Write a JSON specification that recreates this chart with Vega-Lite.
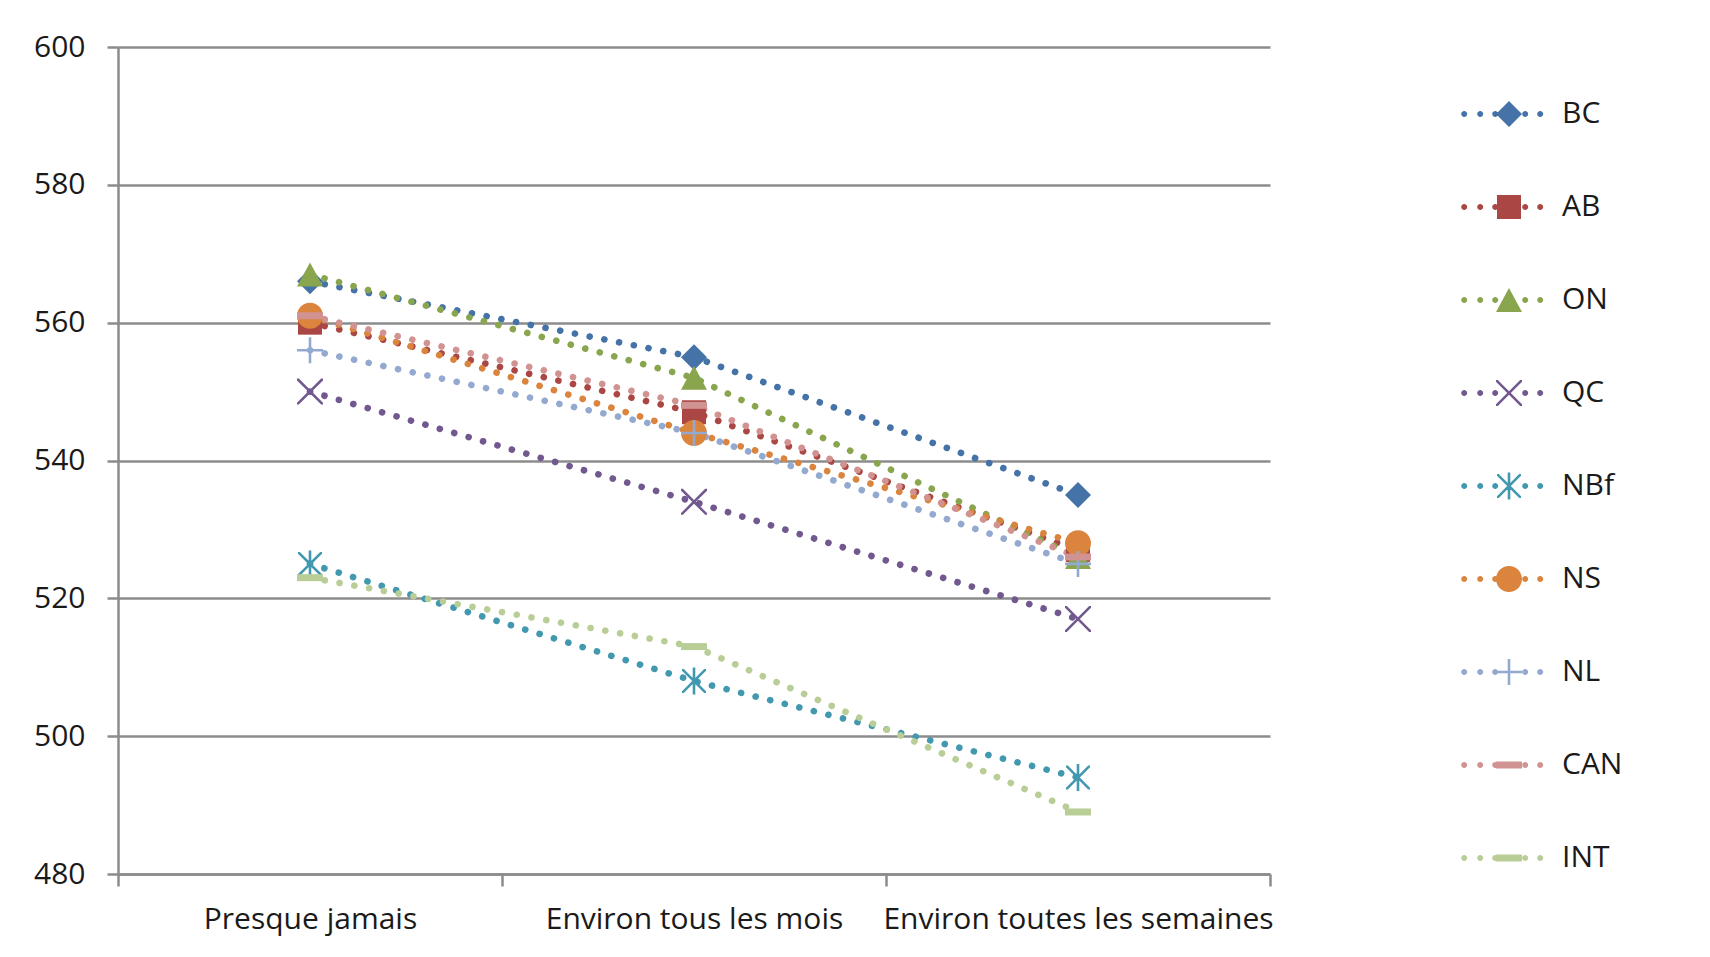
{
  "$schema": "https://vega.github.io/schema/vega-lite/v6.json",
  "width": 1152,
  "height": 827,
  "autosize": {"type": "none"},
  "padding": {"left": 118, "top": 47, "right": 440, "bottom": 83},
  "background": "white",
  "config": {
    "view": {"stroke": null},
    "font": "Open Sans",
    "axis": {
      "labelFont": "Open Sans",
      "labelFontSize": 30,
      "labelColor": "#1a1a1a",
      "labelLimit": 0,
      "domainColor": "#8c8c8c",
      "domainWidth": 2.5,
      "tickColor": "#8c8c8c",
      "tickWidth": 2.5,
      "gridColor": "#8c8c8c",
      "gridWidth": 2.5,
      "title": null
    },
    "legend": {
      "orient": "none",
      "legendX": 1376,
      "legendY": 52,
      "title": null,
      "direction": "vertical",
      "symbolSize": 4,
      "symbolOffset": 0,
      "symbolStrokeWidth": 0,
      "symbolOpacity": 1,
      "labelOffset": 38,
      "labelFont": "Open Sans",
      "labelFontSize": 30,
      "labelColor": "#1a1a1a",
      "rowPadding": 63,
      "padding": 0
    }
  },
  "data": {
    "values": [
      {"prov": "BC", "freq": "Presque jamais", "score": 566},
      {"prov": "BC", "freq": "Environ tous les mois", "score": 555},
      {"prov": "BC", "freq": "Environ toutes les semaines", "score": 535},
      {"prov": "AB", "freq": "Presque jamais", "score": 560},
      {"prov": "AB", "freq": "Environ tous les mois", "score": 547},
      {"prov": "AB", "freq": "Environ toutes les semaines", "score": 527},
      {"prov": "ON", "freq": "Presque jamais", "score": 567},
      {"prov": "ON", "freq": "Environ tous les mois", "score": 552},
      {"prov": "ON", "freq": "Environ toutes les semaines", "score": 526},
      {"prov": "QC", "freq": "Presque jamais", "score": 550},
      {"prov": "QC", "freq": "Environ tous les mois", "score": 534},
      {"prov": "QC", "freq": "Environ toutes les semaines", "score": 517},
      {"prov": "NBf", "freq": "Presque jamais", "score": 525},
      {"prov": "NBf", "freq": "Environ tous les mois", "score": 508},
      {"prov": "NBf", "freq": "Environ toutes les semaines", "score": 494},
      {"prov": "NS", "freq": "Presque jamais", "score": 561},
      {"prov": "NS", "freq": "Environ tous les mois", "score": 544},
      {"prov": "NS", "freq": "Environ toutes les semaines", "score": 528},
      {"prov": "NL", "freq": "Presque jamais", "score": 556},
      {"prov": "NL", "freq": "Environ tous les mois", "score": 544},
      {"prov": "NL", "freq": "Environ toutes les semaines", "score": 525},
      {"prov": "CAN", "freq": "Presque jamais", "score": 561},
      {"prov": "CAN", "freq": "Environ tous les mois", "score": 548},
      {"prov": "CAN", "freq": "Environ toutes les semaines", "score": 526},
      {"prov": "INT", "freq": "Presque jamais", "score": 523},
      {"prov": "INT", "freq": "Environ tous les mois", "score": 513},
      {"prov": "INT", "freq": "Environ toutes les semaines", "score": 489}
    ]
  },
  "encoding": {
    "x": {
      "field": "freq",
      "type": "nominal",
      "bandPosition": 0.5,
      "sort": ["Presque jamais", "Environ tous les mois", "Environ toutes les semaines"],
      "scale": {"type": "band", "paddingInner": 0, "paddingOuter": 0, "domain": ["Presque jamais", "Environ tous les mois", "Environ toutes les semaines"]},
      "axis": {"tickBand": "extent", "labelAngle": 0, "grid": false, "tickSize": 12, "labelPadding": 18, "labelBaseline": "top"}
    },
    "y": {
      "field": "score",
      "type": "quantitative",
      "scale": {"domain": [480, 600], "nice": false, "zero": false},
      "axis": {"values": [480, 500, 520, 540, 560, 580, 600], "grid": true, "tickSize": 11, "labelPadding": 22}
    },
    "color": {
      "field": "prov",
      "type": "nominal",
      "scale": {
        "domain": ["BC", "AB", "ON", "QC", "NBf", "NS", "NL", "CAN", "INT"],
        "range": ["#4572A7", "#AA4643", "#89A54E", "#71588F", "#4198AF", "#DB843D", "#93A9CF", "#D19392", "#B9CD96"]
      },
      "legend": null
    }
  },
  "layer": [
    {
      "mark": {"type": "line", "strokeWidth": 6.6, "strokeDash": [0.1, 14.9], "strokeCap": "round"}
    },
    {
      "mark": {"type": "point", "filled": true, "opacity": 1, "size": 4, "strokeWidth": 0},
      "encoding": {
        "shape": {
          "field": "prov",
          "type": "nominal",
          "scale": {
            "domain": ["BC", "AB", "ON", "QC", "NBf", "NS", "NL", "CAN", "INT"],
            "range": [
              "M0,-13L13,0L0,13L-13,0Z",
              "M-12,-12H12V12H-12Z",
              "M0,-12L13,12H-13Z",
              "M-13,-13L-11.2,-13L0,-1.8L11.2,-13L13,-13L13,-11.2L1.8,0L13,11.2L13,13L11.2,13L0,1.8L-11.2,13L-13,13L-13,11.2L-1.8,0L-13,-11.2Z",
              "M-12,-12L-10.2,-12L0,-1.8L10.2,-12L12,-12L12,-10.2L1.8,0L12,10.2L12,12L10.2,12L0,1.8L-10.2,12L-12,12L-12,10.2L-1.8,0L-12,-10.2ZM-1.3,-13.5H1.3V13.5H-1.3Z",
              "M-13,0A13,13 0 1,1 13,0A13,13 0 1,1 -13,0Z",
              "M-1.3,-13H1.3V-1.3H13V1.3H1.3V13H-1.3V1.3H-13V-1.3H-1.3Z",
              "M-13,-3.5H13V3.5H-13Z",
              "M-13,-3.5H13V3.5H-13Z"
            ]
          },
          "legend": null
        }
      }
    },
    {
      "transform": [{"filter": "false"}],
      "mark": {"type": "point", "filled": true, "opacity": 1, "size": 4, "strokeWidth": 0},
      "encoding": {
        "color": {
          "field": "prov",
          "type": "nominal",
          "scale": {
            "domain": ["BC", "AB", "ON", "QC", "NBf", "NS", "NL", "CAN", "INT"],
            "range": ["#4572A7", "#AA4643", "#89A54E", "#71588F", "#4198AF", "#DB843D", "#93A9CF", "#D19392", "#B9CD96"]
          },
          "legend": {"title": null}
        },
        "shape": {
          "field": "prov",
          "type": "nominal",
          "scale": {
            "domain": ["BC", "AB", "ON", "QC", "NBf", "NS", "NL", "CAN", "INT"],
            "range": [
              "M0,-13L13,0L0,13L-13,0ZM-47.8,0A3,3 0 1,1 -41.8,0A3,3 0 1,1 -47.8,0ZM-31.8,0A3,3 0 1,1 -25.8,0A3,3 0 1,1 -31.8,0ZM-16.8,0A3,3 0 1,1 -10.8,0A3,3 0 1,1 -16.8,0ZM13.2,0A3,3 0 1,1 19.2,0A3,3 0 1,1 13.2,0ZM28.2,0A3,3 0 1,1 34.2,0A3,3 0 1,1 28.2,0Z",
              "M-12,-12H12V12H-12ZM-47.8,0A3,3 0 1,1 -41.8,0A3,3 0 1,1 -47.8,0ZM-31.8,0A3,3 0 1,1 -25.8,0A3,3 0 1,1 -31.8,0ZM-16.8,0A3,3 0 1,1 -10.8,0A3,3 0 1,1 -16.8,0ZM13.2,0A3,3 0 1,1 19.2,0A3,3 0 1,1 13.2,0ZM28.2,0A3,3 0 1,1 34.2,0A3,3 0 1,1 28.2,0Z",
              "M0,-12L13,12H-13ZM-47.8,0A3,3 0 1,1 -41.8,0A3,3 0 1,1 -47.8,0ZM-31.8,0A3,3 0 1,1 -25.8,0A3,3 0 1,1 -31.8,0ZM-16.8,0A3,3 0 1,1 -10.8,0A3,3 0 1,1 -16.8,0ZM13.2,0A3,3 0 1,1 19.2,0A3,3 0 1,1 13.2,0ZM28.2,0A3,3 0 1,1 34.2,0A3,3 0 1,1 28.2,0Z",
              "M-13,-13L-11.2,-13L0,-1.8L11.2,-13L13,-13L13,-11.2L1.8,0L13,11.2L13,13L11.2,13L0,1.8L-11.2,13L-13,13L-13,11.2L-1.8,0L-13,-11.2ZM-47.8,0A3,3 0 1,1 -41.8,0A3,3 0 1,1 -47.8,0ZM-31.8,0A3,3 0 1,1 -25.8,0A3,3 0 1,1 -31.8,0ZM-16.8,0A3,3 0 1,1 -10.8,0A3,3 0 1,1 -16.8,0ZM13.2,0A3,3 0 1,1 19.2,0A3,3 0 1,1 13.2,0ZM28.2,0A3,3 0 1,1 34.2,0A3,3 0 1,1 28.2,0Z",
              "M-12,-12L-10.2,-12L0,-1.8L10.2,-12L12,-12L12,-10.2L1.8,0L12,10.2L12,12L10.2,12L0,1.8L-10.2,12L-12,12L-12,10.2L-1.8,0L-12,-10.2ZM-1.3,-13.5H1.3V13.5H-1.3ZM-47.8,0A3,3 0 1,1 -41.8,0A3,3 0 1,1 -47.8,0ZM-31.8,0A3,3 0 1,1 -25.8,0A3,3 0 1,1 -31.8,0ZM-16.8,0A3,3 0 1,1 -10.8,0A3,3 0 1,1 -16.8,0ZM13.2,0A3,3 0 1,1 19.2,0A3,3 0 1,1 13.2,0ZM28.2,0A3,3 0 1,1 34.2,0A3,3 0 1,1 28.2,0Z",
              "M-13,0A13,13 0 1,1 13,0A13,13 0 1,1 -13,0ZM-47.8,0A3,3 0 1,1 -41.8,0A3,3 0 1,1 -47.8,0ZM-31.8,0A3,3 0 1,1 -25.8,0A3,3 0 1,1 -31.8,0ZM-16.8,0A3,3 0 1,1 -10.8,0A3,3 0 1,1 -16.8,0ZM13.2,0A3,3 0 1,1 19.2,0A3,3 0 1,1 13.2,0ZM28.2,0A3,3 0 1,1 34.2,0A3,3 0 1,1 28.2,0Z",
              "M-1.3,-13H1.3V-1.3H13V1.3H1.3V13H-1.3V1.3H-13V-1.3H-1.3ZM-47.8,0A3,3 0 1,1 -41.8,0A3,3 0 1,1 -47.8,0ZM-31.8,0A3,3 0 1,1 -25.8,0A3,3 0 1,1 -31.8,0ZM-16.8,0A3,3 0 1,1 -10.8,0A3,3 0 1,1 -16.8,0ZM13.2,0A3,3 0 1,1 19.2,0A3,3 0 1,1 13.2,0ZM28.2,0A3,3 0 1,1 34.2,0A3,3 0 1,1 28.2,0Z",
              "M-13,-3.5H13V3.5H-13ZM-47.8,0A3,3 0 1,1 -41.8,0A3,3 0 1,1 -47.8,0ZM-31.8,0A3,3 0 1,1 -25.8,0A3,3 0 1,1 -31.8,0ZM-16.8,0A3,3 0 1,1 -10.8,0A3,3 0 1,1 -16.8,0ZM13.2,0A3,3 0 1,1 19.2,0A3,3 0 1,1 13.2,0ZM28.2,0A3,3 0 1,1 34.2,0A3,3 0 1,1 28.2,0Z",
              "M-13,-3.5H13V3.5H-13ZM-47.8,0A3,3 0 1,1 -41.8,0A3,3 0 1,1 -47.8,0ZM-31.8,0A3,3 0 1,1 -25.8,0A3,3 0 1,1 -31.8,0ZM-16.8,0A3,3 0 1,1 -10.8,0A3,3 0 1,1 -16.8,0ZM13.2,0A3,3 0 1,1 19.2,0A3,3 0 1,1 13.2,0ZM28.2,0A3,3 0 1,1 34.2,0A3,3 0 1,1 28.2,0Z"
            ]
          },
          "legend": {"title": null}
        }
      }
    }
  ],
  "resolve": {"scale": {"shape": "independent", "color": "independent"}}
}
